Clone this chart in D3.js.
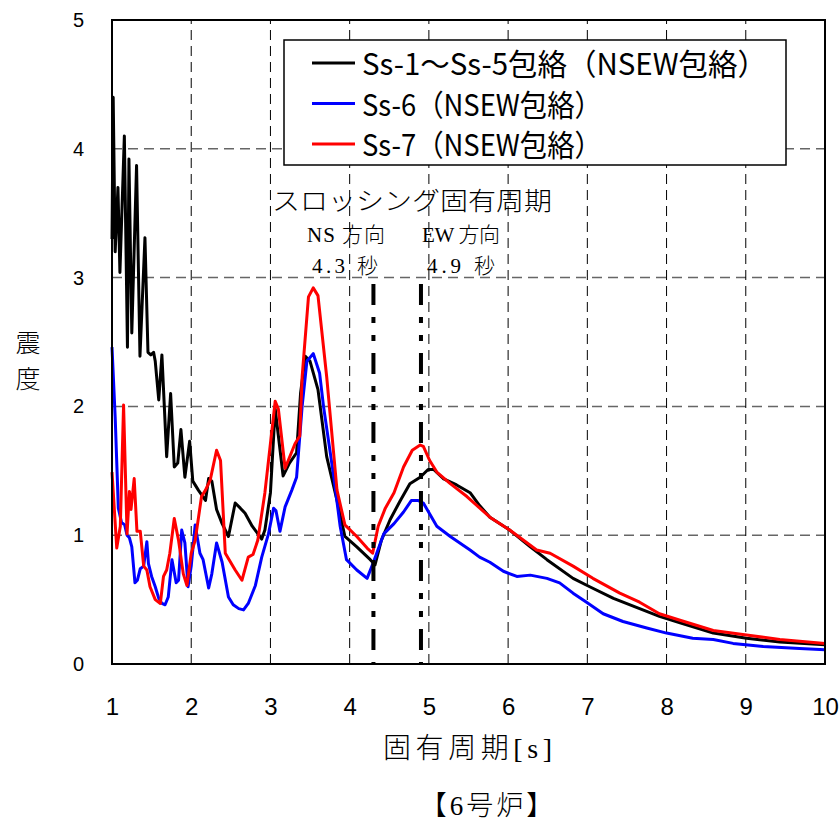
<!DOCTYPE html>
<html><head><meta charset="utf-8">
<script src="https://cdn.jsdelivr.net/npm/d3@7"></script>
<style>body{margin:0;background:#fff}</style>
</head><body>
<svg id="c" width="839" height="820"></svg>
<script>
// ---- data ----
const xTicks = [1,2,3,4,5,6,7,8,9,10];
const yTicks = [0,1,2,3,4,5];
const seriesNames = ["Ss-1～Ss-5包絡（NSEW包絡）","Ss-6（NSEW包絡）","Ss-7（NSEW包絡）"];
const seriesColors = ["#000000","#0000ff","#ff0000"];
const sloshPeriods = [4.3, 4.9];

const blackT = [1.0,1.015,1.04,1.075,1.10,1.156,1.195,1.214,1.25,1.31,1.353,1.416,1.454,1.49,1.525,1.546,1.59,1.63,1.69,1.74,1.786,1.83,1.87,1.92,1.98,2.02,2.09,2.18,2.22,2.26,2.32,2.39,2.47,2.555,2.62,2.68,2.77,2.89,2.93,3.0,3.06,3.16,3.24,3.33,3.38,3.44,3.5,3.6,3.71,3.84,3.94,4.09,4.26,4.32,4.40,4.51,4.64,4.76,4.89,4.99,5.06,5.18,5.35,5.52,5.64,5.77,6.02,6.28,6.49,6.82,7.03,7.33,7.66,7.91,8.17,8.59,9.01,9.43,10.0];
const blackV = [3.3,4.40,3.2,3.70,3.04,4.10,2.46,3.92,2.57,3.87,2.39,3.31,2.42,2.40,2.42,2.35,2.05,2.40,1.61,2.10,1.53,1.56,1.82,1.45,1.73,1.42,1.35,1.27,1.44,1.42,1.20,1.09,0.99,1.25,1.21,1.17,1.07,0.97,1.04,1.33,1.98,1.46,1.56,1.64,2.10,2.39,2.35,2.13,1.61,1.27,0.99,0.91,0.81,0.77,0.96,1.12,1.27,1.40,1.45,1.51,1.51,1.44,1.39,1.33,1.23,1.14,1.04,0.91,0.81,0.665,0.60,0.51,0.43,0.37,0.32,0.24,0.20,0.17,0.15];

const blueT = [1.0,1.04,1.08,1.12,1.16,1.19,1.22,1.25,1.29,1.32,1.357,1.40,1.44,1.46,1.50,1.546,1.59,1.63,1.67,1.71,1.757,1.81,1.84,1.88,1.92,1.96,2.0,2.05,2.11,2.15,2.22,2.26,2.32,2.39,2.47,2.53,2.60,2.66,2.72,2.81,2.89,2.975,3.04,3.07,3.12,3.185,3.27,3.33,3.40,3.46,3.54,3.62,3.67,3.80,3.88,3.96,4.09,4.22,4.30,4.43,4.56,4.68,4.78,4.86,4.93,5.10,5.27,5.52,5.64,5.77,5.94,6.11,6.28,6.49,6.65,6.82,6.99,7.20,7.45,7.75,8.0,8.33,8.59,8.84,9.22,9.68,10.0];
const blueV = [2.46,1.92,1.21,1.10,1.08,1.0,0.98,0.91,0.63,0.65,0.74,0.76,0.95,0.78,0.68,0.60,0.51,0.47,0.46,0.52,0.81,0.63,0.65,1.04,0.94,0.60,0.76,1.08,0.86,0.81,0.59,0.70,0.94,0.79,0.52,0.46,0.43,0.42,0.47,0.61,0.83,1.01,1.21,1.19,1.03,1.22,1.35,1.45,2.0,2.35,2.41,2.26,2.0,1.45,1.07,0.81,0.73,0.665,0.79,1.01,1.09,1.18,1.27,1.27,1.25,1.07,0.99,0.885,0.83,0.79,0.72,0.68,0.69,0.665,0.63,0.55,0.48,0.39,0.33,0.28,0.24,0.20,0.19,0.16,0.135,0.12,0.11];

const redT = [1.0,1.06,1.105,1.146,1.19,1.22,1.24,1.28,1.315,1.357,1.40,1.44,1.48,1.546,1.61,1.65,1.69,1.73,1.786,1.84,1.90,1.946,2.0,2.05,2.13,2.18,2.24,2.32,2.37,2.43,2.555,2.64,2.72,2.78,2.84,2.93,3.06,3.10,3.185,3.31,3.37,3.40,3.48,3.54,3.60,3.71,3.84,3.94,4.09,4.22,4.29,4.36,4.45,4.56,4.68,4.79,4.89,4.93,5.01,5.10,5.27,5.48,5.77,6.02,6.36,6.53,6.82,7.07,7.41,7.66,7.91,8.17,8.59,9.01,9.43,10.0];
const redV = [1.49,0.90,1.07,2.01,1.01,1.34,1.20,1.44,1.03,1.03,0.76,0.73,0.60,0.50,0.47,0.68,0.73,0.86,1.13,0.96,0.70,0.61,0.86,0.96,1.30,1.35,1.43,1.66,1.58,0.86,0.73,0.65,0.83,0.85,0.96,1.33,2.04,1.98,1.52,1.71,1.77,2.23,2.85,2.92,2.86,2.23,1.35,1.08,0.99,0.90,0.86,1.07,1.21,1.33,1.53,1.66,1.70,1.69,1.58,1.49,1.40,1.30,1.14,1.04,0.885,0.86,0.76,0.665,0.55,0.48,0.39,0.34,0.26,0.225,0.19,0.16];

// ---- drawing ----
const svg = d3.select("#c");
const x = d3.scaleLinear().domain([1,10]).range([112,825]);
const y = d3.scaleLinear().domain([0,5]).range([664,20]);

// grid
svg.append("g").selectAll("line").data(yTicks.filter(d=>d>0&&d<5)).join("line")
  .attr("x1",x(1)).attr("x2",x(10)).attr("y1",d=>y(d)).attr("y2",d=>y(d))
  .attr("stroke","#666").attr("stroke-width",1.5).attr("stroke-dasharray","10,6");
svg.append("g").selectAll("line").data(xTicks.filter(d=>d>1&&d<10)).join("line")
  .attr("x1",d=>x(d)).attr("x2",d=>x(d)).attr("y1",y(0)).attr("y2",y(5))
  .attr("stroke","#000").attr("stroke-width",1).attr("stroke-dasharray","10,6");

// axes labels via d3 axes (no tick lines)
const xAxis = svg.append("g").attr("transform",`translate(0,${y(0)})`)
  .call(d3.axisBottom(x).tickValues(xTicks).tickSize(0).tickPadding(34).tickFormat(d3.format("d")));
xAxis.select(".domain").remove();
xAxis.selectAll("text").attr("font-family","Liberation Sans Narrow, Liberation Sans, Arial, sans-serif").attr("font-size",24).attr("fill","#000");
const yAxis = svg.append("g").attr("transform",`translate(${x(1)},0)`)
  .call(d3.axisLeft(y).tickValues(yTicks).tickSize(0).tickPadding(28).tickFormat(d3.format("d")));
yAxis.select(".domain").remove();
yAxis.selectAll("text").attr("font-family","Liberation Sans Narrow, Liberation Sans, Arial, sans-serif").attr("font-size",20).attr("fill","#000");

// series
const line = d3.line().x(d=>x(d[0])).y(d=>y(d[1]));
const seriesData = [d3.zip(blackT,blackV), d3.zip(blueT,blueV), d3.zip(redT,redV)];
[0,1,2].forEach(i=>{
  svg.append("path").datum(seriesData[i]).attr("d",line)
    .attr("fill","none").attr("stroke",seriesColors[i]).attr("stroke-width",3).attr("stroke-linejoin","round");
});

// sloshing period markers
svg.append("g").selectAll("line").data(sloshPeriods).join("line")
  .attr("x1",d=>x(d)).attr("x2",d=>x(d)).attr("y1",284).attr("y2",y(0))
  .attr("stroke","#000").attr("stroke-width",4).attr("stroke-dasharray","21,12,6,12,6,12");

// frame
svg.append("rect").attr("x",x(1)).attr("y",y(5)).attr("width",x(10)-x(1)).attr("height",y(0)-y(5))
  .attr("fill","none").attr("stroke","#000").attr("stroke-width",2);

// legend
const lg = svg.append("g");
lg.append("rect").attr("x",284).attr("y",40).attr("width",502).attr("height",125)
  .attr("fill","#fff").attr("stroke","#000").attr("stroke-width",1.5);
const legW = [405,240,240];
seriesNames.forEach((n,i)=>{
  const ly = 63 + i*40.5;
  lg.append("line").attr("x1",312).attr("x2",355).attr("y1",ly).attr("y2",ly)
    .attr("stroke",seriesColors[i]).attr("stroke-width",3);
  lg.append("text").attr("x",362).attr("y",ly+12).text(n)
    .attr("font-family","Noto Sans CJK JP, sans-serif").attr("font-size",30)
    .attr("textLength",legW[i]).attr("lengthAdjust","spacingAndGlyphs");
});

// annotations
const serif = "Liberation Serif, Noto Sans CJK JP, serif";
svg.append("text").attr("x",272).attr("y",210).text("スロッシング固有周期")
  .attr("font-family",serif).attr("font-size",25).attr("font-weight",300)
  .attr("textLength",280).attr("lengthAdjust","spacingAndGlyphs");
[["NS 方向",307,242,78],["4.3 秒",312,273,66],["EW 方向",422,242,78],["4.9 秒",427,273,68]].forEach(t=>{
  svg.append("text").attr("x",t[1]).attr("y",t[2]).text(t[0])
    .attr("font-family",serif).attr("font-size",21).attr("font-weight",300)
    .attr("textLength",t[3]).attr("lengthAdjust","spacing");
});

// axis titles
svg.append("text").attr("x",383).attr("y",758).text("固有周期[s]")
  .attr("font-family",serif).attr("font-size",28).attr("font-weight",300)
  .attr("textLength",169).attr("lengthAdjust","spacing");
svg.append("text").attr("x",488).attr("y",815).text("【6号炉】").attr("text-anchor","middle")
  .attr("font-family",serif).attr("font-size",27).attr("font-weight",300)
  .attr("letter-spacing",3);
["震","度"].forEach((c,i)=>{
  svg.append("text").attr("x",28).attr("y",352+i*36).text(c).attr("text-anchor","middle")
    .attr("font-family","Noto Sans CJK JP, sans-serif").attr("font-size",25).attr("font-weight",300);
});
</script>
</body></html>
